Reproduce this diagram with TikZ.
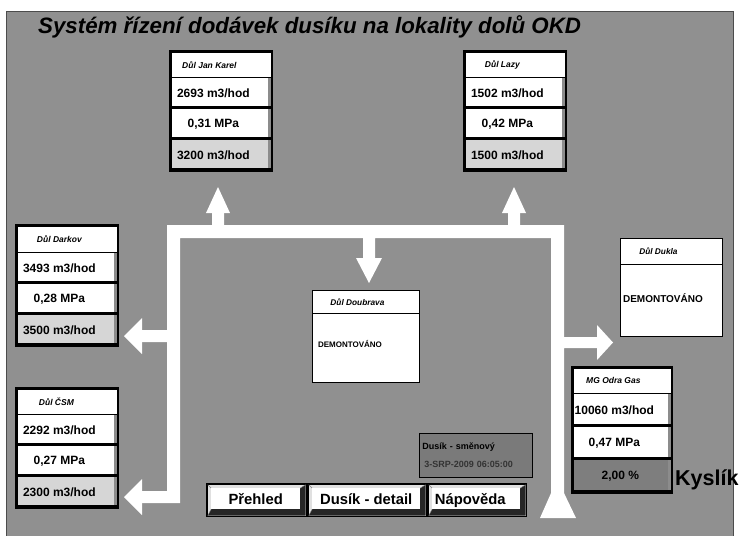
\documentclass[tikz,border=0pt]{standalone}
\usepackage{fontspec}
\setmainfont{Liberation Sans}
\definecolor{bg}{HTML}{909090}
\definecolor{lite}{HTML}{D6D6D6}
\definecolor{midg}{HTML}{7E7E7E}
\definecolor{infobg}{HTML}{7A7A7A}
\tikzset{
  hdr/.style={draw=black, fill=white, line width=0.8pt, inner sep=0pt, anchor=north west,
    font=\bfseries\itshape\fontsize{8.5}{9}\selectfont},
  cellbevel/.style={path picture={
    \fill[black] (path picture bounding box.south west) rectangle ([yshift=2.5pt]path picture bounding box.south east);
    \fill[black!45] ([xshift=-3pt,yshift=2.5pt]path picture bounding box.south east) rectangle (path picture bounding box.north east);
  }},
  cell/.style={draw=black, fill=white, line width=0.8pt, inner sep=0pt, anchor=north west,
    font=\bfseries\fontsize{12}{12}\selectfont, cellbevel},
  backing/.style={fill=black},
  pipe/.style={fill=white},
  btn/.style={fill=black, inner sep=0pt, anchor=north west, minimum height=34pt,
    font=\bfseries\fontsize{14.8}{15}\selectfont,
    path picture={
      \fill[black!12] ([xshift=1.5pt,yshift=1.5pt]path picture bounding box.south west) rectangle ([xshift=-1.5pt,yshift=-1.5pt]path picture bounding box.north east);
      \fill[black!85] ([xshift=1.5pt,yshift=1.5pt]path picture bounding box.south west)
        -- ([xshift=-1.5pt,yshift=1.5pt]path picture bounding box.south east)
        -- ([xshift=-1.5pt,yshift=-1.5pt]path picture bounding box.north east)
        -- ([xshift=-7pt,yshift=-5pt]path picture bounding box.north east)
        -- ([xshift=-7pt,yshift=8pt]path picture bounding box.south east)
        -- ([xshift=5pt,yshift=8pt]path picture bounding box.south west) -- cycle;
      \draw[black!50, line width=0.4pt] ([xshift=1.5pt,yshift=-1.5pt]path picture bounding box.north west) -- ([xshift=5pt,yshift=-5pt]path picture bounding box.north west);
      \draw[black!50, line width=0.4pt] ([xshift=-1.5pt,yshift=-1.5pt]path picture bounding box.north east) -- ([xshift=-7pt,yshift=-5pt]path picture bounding box.north east);
      \draw[black!50, line width=0.4pt] ([xshift=1.5pt,yshift=1.5pt]path picture bounding box.south west) -- ([xshift=5pt,yshift=8pt]path picture bounding box.south west);
      \fill[white] ([xshift=5pt,yshift=8pt]path picture bounding box.south west) rectangle ([xshift=-7pt,yshift=-5pt]path picture bounding box.north east);
    }},
  demobox/.style={draw=black, fill=white, line width=0.9pt, inner sep=0pt, anchor=north west,
    font=\bfseries\fontsize{8}{9}\selectfont},
}
\begin{document}
\begin{tikzpicture}[x=1pt,y=-1pt]
\useasboundingbox (0,0) rectangle (740,536);
\fill[white] (0,0) rectangle (740,536);
\fill[bg] (6,11) rectangle (733,536);
\draw[black!70, line width=0.8pt] (6,536) -- (6,11) -- (733,11) -- (733,536);

% title
\node[anchor=base west, inner sep=0pt, font=\bfseries\itshape\fontsize{22.3}{24}\selectfont] (title) at (38,33)
  {Systém řízení dodávek dusíku na lokality dolů OKD};

% white pipes
\fill[pipe]
  (167,225) rectangle (564,238)
  (167,225) rectangle (180,503)
  (551,225) rectangle (564,495)
  (212,212) rectangle (224,226)
  (508,212) rectangle (520,226)
  (363,237) rectangle (375,259)
  (141,330) rectangle (168,342)
  (141,491) rectangle (168,503)
  (563,337) rectangle (598,348);
\fill[pipe] (206,213) -- (218,187) -- (230,213) -- cycle;
\fill[pipe] (502,213) -- (514,187) -- (526,213) -- cycle;
\fill[pipe] (356,258) -- (369,283) -- (382,258) -- cycle;
\fill[pipe] (142,318) -- (124,336) -- (142,354) -- cycle;
\fill[pipe] (142,479) -- (124,497) -- (142,515) -- cycle;
\fill[pipe] (597,325) -- (613,342.5) -- (597,360) -- cycle;
\fill[pipe] (551.5,492) -- (540,518) -- (576,518) -- (563.5,492) -- cycle;

% Dul Jan Karel
\fill[backing] (169,50) rectangle (273,172);
\node[hdr, minimum width=100pt, minimum height=25pt] (jkh) at (171,52) {\hspace*{-24pt}Důl Jan Karel};
\node[cell, minimum width=100pt, minimum height=31pt] (jk1) at (171,77) {\hspace*{-16pt}2693 m3/hod};
\node[cell, minimum width=100pt, minimum height=31pt] (jk2) at (171,108) {\hspace*{-16pt}0,31 MPa};
\node[cell, fill=lite, minimum width=100pt, minimum height=31pt] (jk3) at (171,139) {\hspace*{-16pt}3200 m3/hod};

% Dul Lazy
\fill[backing] (463,50) rectangle (567,172);
\node[hdr, minimum width=100pt, minimum height=25pt] (lzh) at (465,52) {\hspace*{-26pt}Důl Lazy};
\node[cell, minimum width=100pt, minimum height=31pt] (lz1) at (465,77) {\hspace*{-16pt}1502 m3/hod};
\node[cell, minimum width=100pt, minimum height=31pt] (lz2) at (465,108) {\hspace*{-16pt}0,42 MPa};
\node[cell, fill=lite, minimum width=100pt, minimum height=31pt] (lz3) at (465,139) {\hspace*{-16pt}1500 m3/hod};

% Dul Darkov
\fill[backing] (15,224) rectangle (119,347);
\node[hdr, minimum width=100pt, minimum height=26pt] (dkh) at (17,226) {\hspace*{-16pt}Důl Darkov};
\node[cell, minimum width=100pt, minimum height=31pt] (dk1) at (17,252) {\hspace*{-16pt}3493 m3/hod};
\node[cell, minimum width=100pt, minimum height=31pt] (dk2) at (17,283) {\hspace*{-16pt}0,28 MPa};
\node[cell, fill=lite, minimum width=100pt, minimum height=31pt] (dk3) at (17,314) {\hspace*{-16pt}3500 m3/hod};

% Dul CSM
\fill[backing] (15,387) rectangle (119,509);
\node[hdr, minimum width=100pt, minimum height=25pt] (csh) at (17,389) {\hspace*{-22pt}Důl ČSM};
\node[cell, minimum width=100pt, minimum height=31pt] (cs1) at (17,414) {\hspace*{-16pt}2292 m3/hod};
\node[cell, minimum width=100pt, minimum height=31pt] (cs2) at (17,445) {\hspace*{-16pt}0,27 MPa};
\node[cell, fill=lite, minimum width=100pt, minimum height=31pt] (cs3) at (17,476) {\hspace*{-16pt}2300 m3/hod};

% MG Odra Gas
\fill[backing] (571,366) rectangle (673,494);
\node[hdr, minimum width=98pt, minimum height=25pt] (mgh) at (573,368) {\hspace*{-18pt}MG Odra Gas};
\node[cell, minimum width=98pt, minimum height=33pt] (mg1) at (573,393) {\hspace*{-16pt}10060 m3/hod};
\node[cell, minimum width=98pt, minimum height=33pt] (mg2) at (573,426) {\hspace*{-16pt}0,47 MPa};
\node[cell, fill=midg, minimum width=98pt, minimum height=33pt] (mg3) at (573,459) {\hspace*{-4pt}2,00 \%};
\node[anchor=base west, inner sep=0pt, font=\bfseries\fontsize{21.5}{22}\selectfont] (kys) at (675,485) {Kyslík};

% Dul Doubrava
\node[demobox, minimum width=107pt, minimum height=23pt, font=\bfseries\itshape\fontsize{8.3}{9}\selectfont] (dbh) at (312,290) {\hspace*{-17pt}Důl Doubrava};
\node[demobox, minimum width=107pt, minimum height=69pt] (dbb) at (312,313) {\hspace*{-32pt}\raisebox{8pt}{DEMONTOVÁNO}};

% Dul Dukla
\node[demobox, minimum width=102pt, minimum height=26pt, font=\bfseries\itshape\fontsize{8.3}{9}\selectfont] (duh) at (620,238) {\hspace*{-26pt}Důl Dukla};
\node[demobox, minimum width=102pt, minimum height=72pt, font=\bfseries\fontsize{10}{11}\selectfont] (dub) at (620,264) {\hspace*{-17pt}\raisebox{4pt}{DEMONTOVÁNO}};

% info box
\node[draw=black, fill=infobg, line width=0.6pt, anchor=north west, minimum width=113pt, minimum height=44pt,
  inner xsep=3pt, inner ysep=0pt, text width=107pt, align=left, font=\bfseries\fontsize{9}{18}\selectfont] (info) at (419,433)
  {Dusík - směnový\\\hspace*{2pt}\textcolor{black!80}{3-SRP-2009 06:05:00}};

% buttons
\node[btn, minimum width=101pt] (b1) at (206,483) {\raisebox{1.5pt}{\hspace*{-2pt}Přehled}};
\node[btn, minimum width=120pt] (b2) at (307,483) {\raisebox{1.5pt}{\hspace*{-2pt}Dusík - detail}};
\node[btn, minimum width=100pt] (b3) at (427,483) {\raisebox{1.5pt}{\hspace*{-14pt}Nápověda}};
\end{tikzpicture}
\end{document}
